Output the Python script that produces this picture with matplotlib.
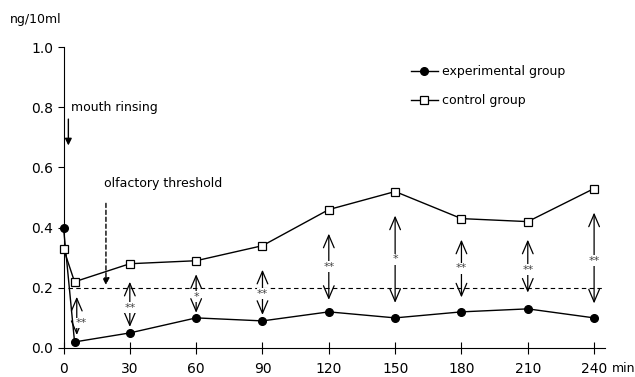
import numpy as np
import matplotlib.pyplot as plt

# data
t = [0, 5, 30, 60, 90, 120, 150, 180, 210, 240]
exp_grp = [0.40, 0.02, 0.05, 0.10, 0.09, 0.12, 0.10, 0.12, 0.13, 0.10]
ctl_grp = [0.33, 0.22, 0.28, 0.29, 0.34, 0.46, 0.52, 0.43, 0.42, 0.53]

# significance arrows: x, top, star position, bottom, label
sig_x = [6, 30, 60, 90, 120, 150, 180, 210, 240]
sig_top = [0.17, 0.22, 0.245, 0.26, 0.38, 0.44, 0.36, 0.36, 0.45]
sig_mid = [0.083, 0.134, 0.17, 0.18, 0.27, 0.295, 0.265, 0.26, 0.29]
sig_bot = [0.043, 0.07, 0.117, 0.11, 0.16, 0.15, 0.168, 0.184, 0.148]
sig_lab = ['**', '**', '*', '**', '**', '*', '**', '**', '**']

xticks = [0, 30, 60, 90, 120, 150, 180, 210, 240]
yticks = [0.0, 0.2, 0.4, 0.6, 0.8, 1.0]
threshold = 0.2

plt.rcParams['font.family'] = ['DejaVu Sans']

fig = plt.figure(figsize=(6.35, 3.77), dpi=100)
ax = fig.add_axes([0.1, 0.077, 0.853, 0.798])

ax.plot(t, exp_grp, 'k-', marker='o', ms=5.5, lw=1, label='experimental group',
        zorder=3, clip_on=False)
ax.plot(t, ctl_grp, 'k-', marker='s', ms=5.5, mfc='white', mew=0.9, lw=1,
        label='control group', zorder=3, clip_on=False)

ax.plot([2, 245], [threshold, threshold], 'k--', lw=0.8, dashes=(4, 3))

for x, top, mid, bot, lab in zip(sig_x, sig_top, sig_mid, sig_bot, sig_lab):
    ax.annotate('', xy=(x, top), xytext=(x, bot),
                arrowprops=dict(arrowstyle='<->,head_length=0.75,head_width=0.32',
                                lw=0.9, color='k', mutation_scale=12,
                                shrinkA=0, shrinkB=0))
    dx = 2 if x < 10 else 0
    ax.text(x + dx, mid, lab, ha='center', va='center', fontsize=8, color='#444444',
            bbox=dict(facecolor='white', edgecolor='none', pad=0.2), zorder=4)

# mouth rinsing
ax.text(3.5, 0.80, 'mouth rinsing', fontsize=9, va='center', ha='left')
ax.annotate('', xy=(2.2, 0.664), xytext=(2.2, 0.77),
            arrowprops=dict(arrowstyle='-|>', lw=1, color='k', mutation_scale=10))

# olfactory threshold
ax.text(18.3, 0.548, 'olfactory threshold', fontsize=9, va='center', ha='left')
ax.annotate('', xy=(19.2, 0.2), xytext=(19.2, 0.49),
            arrowprops=dict(arrowstyle='-|>', lw=1, color='k', ls=(0, (3, 2)),
                            mutation_scale=10))

ax.set_xlim(0, 245)
ax.set_ylim(0, 1.0)
ax.set_xticks(xticks)
ax.set_yticks(yticks)
ax.set_yticklabels(['%.1f' % v for v in yticks])
ax.tick_params(axis='x', direction='inout', length=8, labelsize=10, pad=6)
ax.tick_params(axis='y', direction='out', length=4, labelsize=10)
ax.spines['top'].set_visible(False)
ax.spines['right'].set_visible(False)
ax.spines['left'].set_bounds(0, 1.0)

fig.text(10 / 635, 1 - 19 / 377, 'ng/10ml', fontsize=9, va='center', ha='left')
fig.text(612 / 635, 1 - 369 / 377, 'min', fontsize=9, va='center', ha='left')

ax.legend(loc='upper left', bbox_to_anchor=(0.62, 0.977), frameon=False, fontsize=9,
          handlelength=2.2, handletextpad=0.3, labelspacing=1.25)

fig.savefig('out.png', dpi=100)
